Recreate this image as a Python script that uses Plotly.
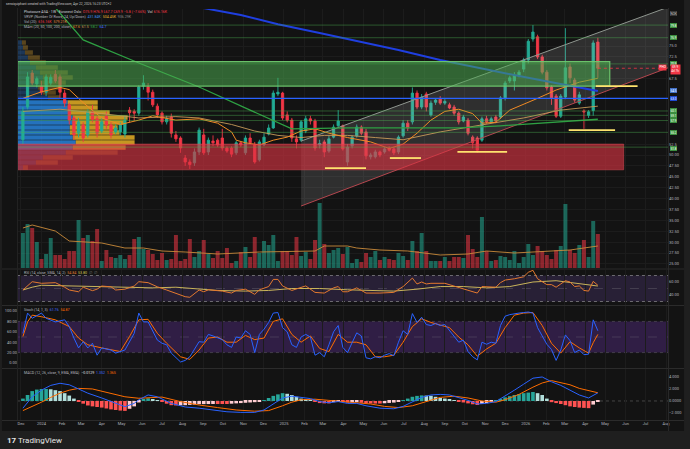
import numpy as np
import pandas as pd
import plotly.graph_objects as go

W, H = 690, 449
PLOT_L, PLOT_R = 18, 670
MAIN_T, MAIN_B = 9, 268
RSI_T, RSI_B = 270, 305
STO_T, STO_B = 306, 368
MACD_T, MACD_B = 369, 420


def fx(px):
    return px / W


def fy(py):
    return 1 - py / H


# ---------------- data ----------------
X_RANGE = ["2023-11-26 12:00", "2026-08-04"]
N_WEEKS = 125
DATES = pd.date_range("2023-12-04", periods=N_WEEKS, freq="7D")

OPEN = [53.5, 61.0, 68.8, 66.3, 65.8, 64.4, 66.5, 68.5, 67.9, 64.2,
        61.5, 58.5, 55.0, 56.9, 54.6, 59.9, 58.3, 55.5, 59.0, 56.9,
        55.3, 55.3, 54.8, 60.3, 60.0, 59.6, 65.8, 65.6, 64.4, 61.2,
        59.6, 57.6, 58.7, 54.6, 53.9, 49.3, 48.4, 48.2, 50.7, 54.6,
        50.7, 53.2, 53.4, 53.9, 51.6, 51.6, 50.5, 52.8, 50.5, 53.9,
        52.3, 48.9, 52.3, 54.8, 56.2, 64.0, 64.2, 59.2, 58.0, 53.7,
        53.4, 55.5, 58.3, 57.8, 52.3, 53.0, 50.9, 54.1, 56.7, 56.7,
        48.4, 52.1, 54.4, 56.4, 55.3, 49.6, 49.6, 50.7, 50.7, 51.6,
        51.4, 50.7, 54.4, 57.3, 57.6, 64.2, 61.0, 64.0, 59.2, 62.1,
        62.8, 61.9, 61.5, 61.0, 59.6, 57.8, 58.0, 54.1, 53.9, 53.4,
        58.3, 57.6, 58.7, 58.7, 63.1, 67.0, 67.0, 68.3, 69.7, 71.8,
        76.6, 77.1, 72.5, 69.0, 65.6, 63.5, 58.9, 63.3, 70.2, 67.2,
        61.9, 60.1, 59.1, 60.2, 75.9]
HIGH = [61.0, 69.0, 69.5, 68.0, 67.0, 68.5, 68.5, 69.5, 68.5, 65.0,
        62.0, 59.0, 58.5, 57.5, 60.5, 61.5, 59.0, 58.5, 60.0, 57.5,
        57.0, 57.5, 59.0, 61.0, 60.5, 66.0, 68.3, 66.5, 65.0, 61.8,
        60.0, 59.0, 59.5, 55.5, 54.3, 50.0, 49.0, 51.5, 56.3, 56.0,
        54.0, 54.5, 53.8, 56.0, 52.0, 52.0, 53.3, 53.0, 54.5, 55.0,
        53.0, 53.5, 55.0, 57.0, 64.8, 67.7, 64.5, 60.0, 58.5, 54.5,
        58.0, 59.0, 59.0, 58.3, 53.5, 53.5, 54.5, 57.0, 60.3, 57.0,
        52.5, 54.5, 57.0, 56.8, 56.0, 50.5, 51.2, 51.0, 51.8, 52.0,
        51.8, 54.5, 58.0, 58.0, 65.5, 64.8, 64.0, 64.5, 62.5, 63.0,
        63.5, 62.8, 62.0, 61.5, 60.0, 59.2, 58.5, 54.5, 54.3, 58.8,
        59.0, 58.8, 59.2, 63.5, 67.0, 68.2, 69.0, 69.5, 72.3, 76.6,
        79.8, 77.6, 73.0, 69.5, 66.0, 64.0, 64.0, 79.1, 71.0, 67.7,
        64.5, 60.5, 60.3, 76.3, 76.9]
LOW = [52.5, 60.5, 66.0, 65.5, 63.8, 63.5, 66.0, 66.5, 63.0, 61.0,
       57.0, 53.5, 54.0, 53.0, 54.0, 57.5, 54.0, 55.0, 56.0, 53.8,
       54.8, 54.5, 54.0, 57.5, 57.8, 59.0, 65.0, 62.5, 61.0, 58.5,
       57.0, 57.0, 54.0, 53.0, 50.5, 47.5, 46.8, 47.5, 50.0, 50.0,
       50.0, 52.0, 51.8, 51.0, 50.5, 49.5, 50.0, 51.8, 50.0, 52.5,
       48.0, 48.5, 52.0, 54.5, 56.0, 63.5, 58.0, 57.5, 53.0, 51.5,
       53.0, 55.0, 57.0, 51.0, 51.5, 49.5, 50.5, 53.8, 56.3, 51.0,
       47.5, 51.5, 54.0, 54.5, 49.0, 49.0, 49.2, 49.5, 50.3, 50.8,
       50.0, 50.2, 54.0, 55.5, 57.0, 60.5, 60.5, 60.0, 58.8, 61.5,
       61.5, 61.5, 60.5, 59.0, 57.0, 57.5, 54.5, 51.5, 50.5, 53.0,
       57.2, 57.3, 57.3, 58.3, 62.5, 66.5, 64.8, 67.8, 69.0, 71.0,
       76.0, 72.0, 68.5, 64.8, 61.5, 58.5, 58.5, 62.8, 66.5, 62.0,
       61.5, 56.0, 58.5, 59.0, 67.7]
CLOSE = [60.0, 67.9, 66.5, 67.5, 64.4, 67.9, 67.8, 67.0, 64.4, 61.9,
         58.0, 54.6, 57.6, 53.9, 59.9, 58.2, 55.0, 57.6, 56.9, 54.6,
         56.2, 56.9, 58.0, 59.7, 59.6, 65.6, 66.5, 64.4, 61.5, 59.2,
         57.6, 58.3, 55.0, 53.7, 51.6, 48.4, 47.8, 50.7, 55.7, 50.5,
         53.4, 52.8, 52.3, 51.6, 50.9, 50.2, 52.8, 52.3, 53.9, 52.8,
         48.4, 53.0, 54.1, 56.2, 64.2, 64.4, 58.5, 58.0, 53.9, 53.0,
         57.6, 58.3, 57.8, 51.6, 52.6, 50.7, 53.7, 56.4, 57.8, 51.4,
         51.8, 54.1, 56.4, 55.0, 49.8, 50.0, 50.7, 50.0, 51.4, 51.1,
         50.5, 54.1, 57.3, 56.2, 64.2, 61.0, 63.3, 61.0, 61.9, 62.6,
         61.9, 62.3, 60.8, 59.6, 57.6, 58.7, 55.0, 52.8, 51.1, 58.3,
         57.6, 58.3, 57.8, 63.1, 66.5, 67.7, 68.3, 69.0, 71.8, 76.1,
         78.2, 72.5, 69.0, 65.4, 63.1, 58.9, 63.5, 70.0, 67.7, 62.6,
         63.8, 59.9, 59.9, 75.7, 69.9]
VOLUME_K = [875, 1100, 1000, 650, 225, 350, 750, 325, 325, 225,
            425, 425, 1200, 750, 825, 675, 975, 175, 450, 275,
            250, 325, 225, 325, 725, 775, 475, 450, 350, 200,
            375, 200, 225, 825, 175, 225, 725, 275, 425, 700,
            350, 250, 425, 250, 500, 125, 175, 400, 525, 275,
            775, 375, 675, 575, 825, 175, 425, 425, 325, 775,
            300, 400, 225, 700, 1625, 600, 375, 450, 500, 350,
            525, 125, 225, 150, 375, 275, 425, 200, 275, 225,
            200, 375, 300, 200, 675, 425, 875, 425, 175, 175,
            175, 275, 175, 275, 275, 250, 825, 475, 275, 1275,
            425, 175, 200, 300, 275, 200, 425, 125, 275, 600,
            325, 550, 425, 325, 225, 450, 550, 1600, 450, 375,
            575, 700, 275, 1175, 850]
VOL_MA_IDX = [0, 2, 7, 10, 17, 19, 22, 26, 30, 35, 42, 51, 58, 63, 65, 70, 72, 77,
              83, 90, 96, 100, 106, 113, 118, 121, 124]
VOL_MA_VAL = [1000, 1075, 925, 675, 625, 575, 500, 500, 425, 400, 350, 400, 425, 425,
              550, 550, 500, 450, 425, 325, 350, 425, 375, 425, 450, 500, 550]

MA20_IDX = [0, 4, 8, 10, 13, 17, 21, 25, 28, 33, 38, 42, 45, 46, 48, 51, 54, 57, 60, 63,
            66, 70, 75, 79, 82, 85, 88, 91, 94, 97, 99, 102, 105, 109, 111, 115, 120, 124]
MA20_VAL = [63, 64.5, 65.5, 65, 62, 58.5, 57, 58, 59, 58, 58.3, 57.3, 55.3, 53.4, 52.8,
            52.3, 53.4, 54.1, 55.5, 56, 55, 54, 53, 51.5, 52.5, 55, 58, 60, 60.5, 59.5,
            57.3, 57.5, 60.3, 62, 63, 64.9, 66.7, 67.6]
MA50_IDX = [0, 8, 17, 25, 33, 38, 45, 50, 55, 60, 65, 70, 76, 82, 90, 97, 103, 108, 116, 124]
MA50_VAL = [60, 60.5, 59.5, 58.5, 58.8, 58.5, 57, 55.5, 54.5, 54, 54.5, 54.5, 54, 53.5,
            55.3, 56.5, 57.5, 58.5, 60.3, 61.2]
MA100_IDX = [6, 8, 13, 25, 38, 49, 58, 70, 85, 94, 103, 111, 124]
MA100_VAL = [85, 82.6, 76.4, 71.1, 65.6, 60.3, 56.0, 56.2, 56.2, 56.2, 56.7, 57.3, 58.2]
MA200_IDX = [36, 38, 47, 55, 64, 73, 81, 90, 98, 107, 116, 124]
MA200_VAL = [86, 83.9, 82.1, 80.0, 78.0, 75.9, 74.1, 71.8, 70.0, 68.1, 66.3, 64.7]

# visible-range volume profile (rows, up / down volume in K)
PROFILE_PRICE = [75.80, 74.65, 73.51, 72.36, 71.22, 70.07, 68.92, 67.78, 66.63, 65.48,
                 64.34, 63.19, 62.04, 60.89, 59.75, 58.60, 57.45, 56.31, 55.16, 54.01,
                 52.87, 51.72, 50.57, 49.43, 48.28, 47.13]
PROFILE_UP = [400, 500, 700, 1000, 1200, 1800, 2200, 2500, 2200, 2000, 2500, 3000, 5000,
              5000, 5200, 5500, 5500, 5200, 5200, 5500, 5800, 5500, 4800, 2500, 1800, 500]
PROFILE_DOWN = [400, 500, 800, 1200, 1600, 2200, 2800, 3000, 2600, 2200, 1300, 1200, 3000,
                3000, 4000, 5500, 5300, 4800, 5000, 6200, 5900, 5300, 5200, 3000, 2200, 500]
VALUE_AREA = (51.0, 62.8)

RSI_IDX = [0, 2, 4, 7, 9, 10, 12, 13, 15, 16, 17, 19, 20, 22, 24, 25, 27, 29, 31, 33,
           35, 36, 38, 39, 40, 43, 45, 46, 48, 50, 51, 53, 54, 55, 56, 58, 60, 61, 63, 65,
           67, 68, 69, 70, 72, 74, 77, 80, 82, 84, 85, 86, 87, 88, 91, 93, 96, 98, 99, 102,
           103, 104, 106, 108, 109, 110, 111, 112, 113, 114, 115, 116, 117, 118, 119, 120,
           121, 122, 123, 124]
RSI_VAL = [47.7, 60.5, 58, 59, 52, 47.7, 45, 52, 46.7, 49, 53.8, 52.6, 47.7, 49, 53.8,
           60.5, 59, 52.6, 47.7, 42.6, 37.4, 36.5, 47.7, 45, 48, 46, 43, 47, 49, 41,
           48, 53, 64, 64, 54, 47, 52, 54, 44, 43, 51, 53, 45, 45, 51, 43, 43, 44, 53, 66,
           57, 60, 57, 58, 58, 54, 48, 43, 53, 52, 59, 63, 65, 68, 75, 78, 65, 60, 56, 56,
           52, 57, 62, 60, 53, 54, 47, 46, 61, 55]
RSI_MA_IDX = [0, 2, 4, 10, 20, 28, 33, 38, 42, 48, 53, 58, 64, 70, 76, 80, 85, 90, 95,
              100, 105, 110, 115, 120, 124]
RSI_MA_VAL = [47.7, 52, 55, 54, 52, 51, 52, 49, 47, 46, 47, 50, 50, 48, 47, 46, 49, 53,
              53, 51, 53, 60, 62, 57, 53.8]

STOCH_K_IDX = [0, 1, 2, 4, 5, 6, 7, 9, 10, 11, 12, 13, 14, 15, 16, 17, 19, 20, 22, 24,
               25, 26, 27, 29, 30, 31, 32, 34, 35, 36, 38] + list(range(39, 125))
STOCH_K_VAL = [57, 96, 86, 96, 86, 83, 79, 83, 70, 48, 29, 41, 29, 38, 15, 29, 25, 19, 25,
               57, 96, 79, 79, 44, 38, 35, 19, 2, 5, 12, 41,
               40, 55, 52, 48, 45, 35, 30, 50, 48, 62,
               55, 20, 55, 65, 78, 96, 97, 68, 60, 35,
               30, 50, 55, 50, 15, 20, 12, 35, 60, 72,
               30, 20, 40, 58, 52, 10, 8, 12, 10, 15,
               18, 14, 40, 62, 55, 95, 78, 88, 74, 72,
               76, 72, 74, 62, 52, 40, 44, 22, 12, 6,
               40, 36, 40, 38, 72, 90, 93, 95, 96, 97,
               98, 96, 68, 52, 36, 26, 5, 25, 54, 43,
               20, 25, 16, 17, 83, 62]
STOCH_D_IDX = [0, 1, 2, 4, 7, 10, 12, 14, 17, 21, 23, 25, 27, 29, 31, 34, 36, 38, 40, 42,
               44, 46, 48, 50, 52, 54, 56, 58, 60, 62, 64, 66, 68, 70, 72, 74, 76, 78, 80, 82,
               84, 86, 88, 90, 92, 94, 96, 98, 100, 102, 104, 106, 108, 110, 112, 114, 116,
               118, 120, 122, 123, 124]
STOCH_D_VAL = [51, 79, 92, 89, 83, 70, 48, 35, 29, 22, 51, 83, 84, 57, 38, 12, 7, 25, 48, 50,
               40, 40, 53, 45, 48, 80, 85, 55, 40, 52, 28, 22, 55, 40, 40, 35, 12, 12, 15, 40,
               70, 85, 78, 73, 68, 50, 35, 13, 27, 38, 68, 92, 96, 97, 72, 38, 19,
               41, 29, 19, 39, 55]

MACD_IDX = [0, 2, 4, 6, 8, 10, 12, 14, 17, 19, 21, 22, 24, 25, 27, 29, 32, 35, 38, 41,
            44, 47, 50, 52, 54, 56, 58, 60, 62, 64, 66, 68, 70, 72, 74, 77, 80, 82, 84, 86,
            88, 90, 92, 94, 96, 98, 100, 102, 104, 106, 108, 110, 112, 114, 116, 118, 120,
            122, 124]
MACD_VAL = [-1.2, 0.7, 1.8, 2.6, 2.95, 2.7, 2.0, 1.3, 0.5, -0.1, -0.7, -0.95, -0.4, 0.2,
            1.0, 0.7, -0.4, -1.0, -1.2, -1.5, -1.8, -1.9, -1.9, -1.5, -0.5, 0.5, 0.8, 0.6,
            0.4, -0.1, -0.3, -0.1, -0.4, -0.4, -0.8, -1.2, -1.3, -0.9, -0.1, 0.6, 1.0, 1.1,
            1.0, 0.6, 0.1, -0.5, -0.4, -0.1, 0.8, 1.8, 2.8, 3.8, 4.0, 3.2, 2.6, 1.8, 1.0,
            0.5, 1.35]
SIGNAL_IDX = [0, 2, 4, 6, 8, 10, 12, 15, 19, 22, 25, 28, 30, 34, 38, 42, 46, 50, 53, 56,
              58, 60, 63, 66, 69, 72, 75, 78, 81, 84, 87, 90, 93, 96, 99, 102, 104, 107,
              110, 112, 114, 116, 118, 120, 122, 124]
SIGNAL_VAL = [-1.6, -0.95, -0.2, 0.6, 1.3, 1.8, 2.1, 2.0, 1.3, 0.7, 0.45, 0.6, 0.65, -0.1,
              -0.67, -1.1, -1.5, -1.7, -1.6, -0.8, -0.2, 0.2, 0.3, 0.1, -0.1, -0.2, -0.5,
              -0.9, -1.1, -0.8, -0.1, 0.6, 0.8, 0.5, 0.0, -0.2, 0.2, 1.1, 2.3, 3.0, 3.4, 3.1,
              2.7, 2.1, 1.7, 1.37]
MACD_HIST = [0.4, 1.0, 1.65, 1.9, 2.0, 2.0, 1.95, 1.8, 1.65, 1.3,
             0.9, 0.4, -0.1, -0.45, -0.75, -0.9, -1.0, -1.1, -1.25, -1.4,
             -1.5, -1.6, -1.65, -1.3, -0.9, -0.25, 0.2, 0.45, 0.3, 0.08,
             -0.15, -0.45, -0.7, -0.75, -0.72, -0.7, -0.65, -0.6, -0.53, -0.52,
             -0.51, -0.5, -0.5, -0.5, -0.5, -0.45, -0.4, -0.35, -0.3, -0.25,
             -0.2, -0.05, 0.15, 0.5, 0.85, 1.1, 1.3, 1.2, 1.0, 0.7,
             0.4, 0.25, 0.13, -0.1, -0.35, -0.4, -0.4, -0.2, -0.05, -0.15,
             -0.27, -0.25, -0.2, -0.3, -0.4, -0.42, -0.43, -0.43, -0.38, -0.32,
             -0.27, -0.1, 0.1, 0.4, 0.7, 0.85, 0.93, 0.9, 0.87, 0.7,
             0.5, 0.4, 0.27, 0.1, -0.1, -0.25, -0.4, -0.55, -0.67, -0.5,
             -0.33, -0.1, 0.1, 0.35, 0.6, 0.8, 1.0, 1.15, 1.3, 1.4,
             1.5, 1.3, 1.0, 0.4, -0.2, -0.35, -0.5, -0.7, -0.9, -1.0,
             -1.1, -1.15, -1.2, -0.6, -0.0129]

# drawings
GREEN_ZONE = ("2023-11-26", "2026-05-08", 65.8, 71.4)
RED_ZONE = ("2023-11-26", "2026-05-29", 46.6, 52.5)
CHANNEL_X = ["2025-01-27", "2026-08-04"]
CHANNEL_TOP = [53.2, 83.9]
CHANNEL_BOT = [38.3, 70.0]
SUPPORT_LINES = [("2025-03-04", "2025-05-05", 47.0), ("2025-06-10", "2025-07-27", 49.3),
                 ("2025-09-20", "2025-12-04", 50.7), ("2026-03-07", "2026-05-16", 55.7),
                 ("2026-04-17", "2026-06-19", 65.8)]
GREEN_LEVELS = [79.8, 76.9, 70.9, 60.1, 59.1, 57.9, 55.2, 51.8]
BLUE_LEVEL = 63.0

PRICE_RANGE = [24.08, 83.49]
# scale ticks that are not hidden behind the coloured price boxes
PRICE_TICKS = [25, 27.5, 30, 32.5, 35, 37.5, 40, 42.5, 45, 47.5, 50, 52.5, 67.5, 72.5, 75]
MONTHS = pd.date_range("2023-12-01", "2026-08-01", freq="MS")
MONTH_TEXT = [str(d.year) if d.month == 1 else d.strftime("%b") for d in MONTHS]

# ---------------- styling ----------------
UP, DN = "#22ab94", "#f23645"
BG = "#131313"
TXT = "#b2b5be"
FONT = "Roboto"
GRID = "#1c1c1c"

fig = go.Figure()

# volume profile on its own (hidden) x scale
in_va = [VALUE_AREA[0] <= p <= VALUE_AREA[1] for p in PROFILE_PRICE]
fig.add_trace(go.Bar(x=PROFILE_UP, y=PROFILE_PRICE, orientation="h", width=1.02,
                     marker=dict(color=["rgba(40,132,220,0.85)" if v else "rgba(40,100,170,0.45)" for v in in_va],
                                 line=dict(width=0)),
                     xaxis="x", yaxis="y", hoverinfo="skip"))
fig.add_trace(go.Bar(x=PROFILE_DOWN, y=PROFILE_PRICE, base=PROFILE_UP, orientation="h", width=1.02,
                     marker=dict(color=["rgba(222,170,35,0.88)" if v else "rgba(160,120,40,0.5)" for v in in_va],
                                 line=dict(width=0)),
                     xaxis="x", yaxis="y", hoverinfo="skip"))

# channel
fig.add_trace(go.Scatter(x=CHANNEL_X + CHANNEL_X[::-1], y=CHANNEL_TOP + CHANNEL_BOT[::-1],
                         fill="toself", fillcolor="rgba(190,190,190,0.17)", line=dict(width=0),
                         mode="lines", xaxis="x2", yaxis="y", hoverinfo="skip"))
fig.add_trace(go.Scatter(x=CHANNEL_X, y=CHANNEL_TOP, mode="lines", line=dict(color="#8f968f", width=1),
                         xaxis="x2", yaxis="y", hoverinfo="skip"))
fig.add_trace(go.Scatter(x=CHANNEL_X, y=CHANNEL_BOT, mode="lines", line=dict(color="#b5474f", width=1),
                         xaxis="x2", yaxis="y", hoverinfo="skip"))

# candles
fig.add_trace(go.Candlestick(x=DATES, open=OPEN, high=HIGH, low=LOW, close=CLOSE,
                             increasing=dict(line=dict(color=UP, width=0.9), fillcolor=UP),
                             decreasing=dict(line=dict(color=DN, width=0.9), fillcolor=DN),
                             whiskerwidth=0, xaxis="x2", yaxis="y", hoverinfo="skip"))


def line_tr(idx, vals, color, width, xa="x2", ya="y", opacity=1.0):
    return go.Scatter(x=DATES[idx], y=vals, mode="lines", line=dict(color=color, width=width),
                      opacity=opacity, xaxis=xa, yaxis=ya, hoverinfo="skip")


fig.add_trace(line_tr(MA50_IDX, MA50_VAL, "#c79a5a", 1.0, opacity=0.9))
fig.add_trace(line_tr(MA20_IDX, MA20_VAL, "#f08a24", 1.0))
fig.add_trace(line_tr(MA100_IDX, MA100_VAL, "#2ea043", 1.3))
fig.add_trace(line_tr(MA200_IDX, MA200_VAL, "#1f3fe0", 2.0))

# volume
vol_cols = ["rgba(34,171,148,0.55)" if c >= o else "rgba(242,54,69,0.55)" for o, c in zip(OPEN, CLOSE)]
fig.add_trace(go.Bar(x=DATES, y=VOLUME_K, marker=dict(color=vol_cols, line=dict(width=0)),
                     width=6 * 86400000, xaxis="x2", yaxis="y2", hoverinfo="skip"))
fig.add_trace(line_tr(VOL_MA_IDX, VOL_MA_VAL, "#c98a3a", 0.9, ya="y2"))

# RSI
fig.add_trace(line_tr(RSI_MA_IDX, RSI_MA_VAL, "#c9b45a", 1.0, xa="x3", ya="y3"))
fig.add_trace(line_tr(RSI_IDX, RSI_VAL, "#e3792f", 1.0, xa="x3", ya="y3"))

# Stochastic
fig.add_trace(line_tr(STOCH_D_IDX, STOCH_D_VAL, "#ff6d00", 1.0, xa="x4", ya="y4"))
fig.add_trace(line_tr(STOCH_K_IDX, STOCH_K_VAL, "#2962ff", 1.0, xa="x4", ya="y4"))

# MACD
hist = np.array(MACD_HIST)
prev = np.concatenate([[hist[0]], hist[:-1]])
hist_cols = np.where(hist >= 0, np.where(hist >= prev, "#26a69a", "#b2dfdb"),
                     np.where(hist <= prev, "#ff5252", "#ffcdd2"))
fig.add_trace(go.Bar(x=DATES, y=MACD_HIST, marker=dict(color=list(hist_cols), line=dict(width=0)),
                     width=5.5 * 86400000, xaxis="x5", yaxis="y5", hoverinfo="skip"))
fig.add_trace(line_tr(SIGNAL_IDX, SIGNAL_VAL, "#ff6d00", 1.0, xa="x5", ya="y5"))
fig.add_trace(line_tr(MACD_IDX, MACD_VAL, "#2962ff", 1.0, xa="x5", ya="y5"))

# ---------------- shapes ----------------
shapes = []
shapes.append(dict(type="rect", xref="paper", yref="paper", x0=fx(2), x1=fx(686), y0=fy(431), y1=fy(0),
                   fillcolor=BG, line=dict(width=0), layer="below"))
shapes.append(dict(type="rect", xref="x2", yref="y", x0=GREEN_ZONE[0], x1=GREEN_ZONE[1],
                   y0=GREEN_ZONE[2], y1=GREEN_ZONE[3], fillcolor="rgba(76,175,80,0.52)",
                   line=dict(color="rgba(110,200,110,0.95)", width=1.2), layer="above"))
shapes.append(dict(type="rect", xref="x2", yref="y", x0=RED_ZONE[0], x1=RED_ZONE[1],
                   y0=RED_ZONE[2], y1=RED_ZONE[3], fillcolor="rgba(220,52,66,0.62)",
                   line=dict(color="rgba(230,80,90,0.6)", width=0.8), layer="above"))
for lv in GREEN_LEVELS:
    shapes.append(dict(type="line", xref="x2", yref="y", x0=X_RANGE[0], x1=X_RANGE[1], y0=lv, y1=lv,
                       line=dict(color="rgba(76,175,80,0.55)", width=0.8), layer="above"))
shapes.append(dict(type="line", xref="x2", yref="y", x0=X_RANGE[0], x1=X_RANGE[1], y0=BLUE_LEVEL,
                   y1=BLUE_LEVEL, line=dict(color="#2962ff", width=1.2), layer="above"))
for a, b, lv in SUPPORT_LINES:
    shapes.append(dict(type="line", xref="x2", yref="y", x0=a, x1=b, y0=lv, y1=lv,
                       line=dict(color="#ffe36e", width=1.8), layer="above"))
shapes.append(dict(type="line", xref="x2", yref="y", x0=DATES[-1], x1=X_RANGE[1], y0=CLOSE[-1],
                   y1=CLOSE[-1], line=dict(color=DN, width=0.8, dash="dot"), layer="above"))
shapes.append(dict(type="rect", xref="x3", yref="y3", x0=X_RANGE[0], x1=X_RANGE[1], y0=30, y1=70,
                   fillcolor="rgba(126,87,194,0.20)", line=dict(width=0), layer="below"))
for lv, dash, col in [(70, "dot", "rgba(200,200,200,0.6)"), (30, "dot", "rgba(200,200,200,0.6)"),
                      (50, "dash", "rgba(160,160,160,0.3)")]:
    shapes.append(dict(type="line", xref="x3", yref="y3", x0=X_RANGE[0], x1=X_RANGE[1], y0=lv, y1=lv,
                       line=dict(color=col, width=0.8, dash=dash), layer="below"))
shapes.append(dict(type="rect", xref="x4", yref="y4", x0=X_RANGE[0], x1=X_RANGE[1], y0=20, y1=80,
                   fillcolor="rgba(126,60,200,0.28)", line=dict(width=0), layer="below"))
for lv, dash, col in [(80, "dot", "rgba(160,160,160,0.35)"), (20, "dot", "rgba(160,160,160,0.35)"),
                      (50, "dash", "rgba(160,160,160,0.25)")]:
    shapes.append(dict(type="line", xref="x4", yref="y4", x0=X_RANGE[0], x1=X_RANGE[1], y0=lv, y1=lv,
                       line=dict(color=col, width=0.8, dash=dash), layer="below"))
shapes.append(dict(type="line", xref="x5", yref="y5", x0=X_RANGE[0], x1=X_RANGE[1], y0=0, y1=0,
                   line=dict(color="rgba(160,160,160,0.45)", width=0.8, dash="dot"), layer="below"))
for py in [269, 305.5, 368.5, 420.5]:
    shapes.append(dict(type="line", xref="paper", yref="paper", x0=fx(2), x1=fx(686), y0=fy(py), y1=fy(py),
                       line=dict(color="#2b2b2b", width=1), layer="above"))
shapes.append(dict(type="line", xref="paper", yref="paper", x0=fx(PLOT_R + 0.5), x1=fx(PLOT_R + 0.5),
                   y0=fy(431), y1=fy(8), line=dict(color="#2b2b2b", width=1), layer="above"))
shapes.append(dict(type="line", xref="paper", yref="paper", x0=fx(PLOT_L - 0.5), x1=fx(PLOT_L - 0.5),
                   y0=fy(420), y1=fy(8), line=dict(color="#242424", width=1), layer="above"))

# ---------------- annotations ----------------
def sp(t, c):
    return f"<span style='color:{c}'>{t}</span>"


ann = []


def text(px, py, s, size=3.6, color=TXT, anchor="left", **kw):
    ann.append(dict(x=fx(px), y=fy(py), xref="paper", yref="paper", text=s, showarrow=False,
                    xanchor=anchor, yanchor="middle", font=dict(family=FONT, size=size, color=color), **kw))


text(4, 4, "sensiquiphant created with TradingView.com, Apr 22, 2026 16:23 UTC+2", size=3.3, color="#c8c8c8")
text(22, 11.7, "Photocure ASA · 1W · Euronext Oslo  " + sp("O75.9 H76.9 L67.7 C69.9 −5.8 (−7.66%)", DN)
     + "  Vol " + sp("616.16K", DN), color="#d1d4dc")
text(22, 16.6, "VRVP (Number Of Rows, 24, Up/Down)  " + sp("431.84K", "#3d8ee0") + "  "
     + sp("504.45K", "#e0b030") + "  " + sp("936.29K", "#8a8a8a"))
text(22, 22, "Vol (20)  " + sp("616.16K", DN) + "  " + sp("579.21K", "#e08a3a"))
text(22, 27.3, "MAm (20, 50, 100, 200, close)  " + sp("67.6", "#f08a24") + "  " + sp("61.5", "#c79a5a")
     + "  " + sp("58.2", "#2ea043") + "  " + sp("64.7", "#3f6bff"))
text(22, 272.5, "RSI (14, close, SMA, 14, 2)  " + sp("54.84", "#e3792f") + "  " + sp("53.80", "#d8c050")
     + "  " + sp("∅  ∅", "#777"))
text(22, 309.5, "Stoch (14, 1, 3)  " + sp("61.76", "#3f6bff") + "  " + sp("54.87", "#ff6d00"))
text(22, 373, "MACD (12, 26, close, 9, EMA, EMA)  " + sp("−0.0129", "#e0e0e0") + "  "
     + sp("1.352", "#3f6bff") + "  " + sp("1.365", "#ff6d00"))
text(5, 440.5, "<b>17</b> TradingView", size=8, color="#e6e6e6")

# price-scale labels
PRICE_BOXES = [(82.4, "NOK", "#1e1e1e", "#d0d0d0"),
               (79.8, "79.8", "#43a047", "#ffffff"), (76.9, "76.9", "#43a047", "#ffffff"),
               (70.9, "70.9", "#43a047", "#ffffff"), (64.7, "64.5", "#4a7fe0", "#ffffff"),
               (63.0, "63.0", "#2050e8", "#ffffff"), (60.2, "60.1", "#43a047", "#ffffff"),
               (59.05, "59.1", "#43a047", "#ffffff"), (57.85, "57.9", "#43a047", "#ffffff"),
               (55.2, "55.2", "#43a047", "#ffffff"), (51.6, "51.8", "#43a047", "#ffffff")]
for price, t, bg, fg in PRICE_BOXES:
    ann.append(dict(x=fx(PLOT_R + 2), y=price, xref="paper", yref="y", text=t, showarrow=False,
                    xanchor="left", yanchor="middle", bgcolor=bg, borderpad=0,
                    bordercolor="#555" if t == "NOK" else bg, borderwidth=0.5,
                    font=dict(family=FONT, size=3.1, color=fg)))
ann.append(dict(x=fx(PLOT_R + 2), y=CLOSE[-1] - 0.2, xref="paper", yref="y", text="69.9<br>4d 7h",
                showarrow=False, xanchor="left", yanchor="middle", bgcolor=DN, borderpad=0.3,
                font=dict(family=FONT, size=3.1, color="#ffffff")))
ann.append(dict(x=fx(PLOT_R - 1), y=CLOSE[-1] + 0.1, xref="paper", yref="y", text="PHO", showarrow=False,
                xanchor="right", yanchor="middle", bgcolor=DN, borderpad=0.4,
                font=dict(family=FONT, size=3.2, color="#ffffff")))

# ---------------- axes ----------------
xdom = [fx(PLOT_L), fx(PLOT_R)]
tickfont = dict(family=FONT, size=4, color=TXT)


def date_axis(anchor, show_labels=False, **kw):
    d = dict(domain=xdom, type="date", range=X_RANGE, anchor=anchor, showgrid=True, gridcolor=GRID,
             gridwidth=1, tickvals=MONTHS, ticktext=MONTH_TEXT, showticklabels=show_labels,
             ticks="", showline=False, zeroline=False, tickfont=tickfont, fixedrange=True)
    d.update(kw)
    return d


price_text = [f"{v:.2f}" if v <= 50 else f"{v:.1f}" for v in PRICE_TICKS]

fig.update_layout(
    width=W, height=H, margin=dict(l=0, r=0, t=0, b=0),
    paper_bgcolor="#1f1f1f", plot_bgcolor="rgba(0,0,0,0)",
    showlegend=False, hovermode=False, barmode="overlay",
    font=dict(family=FONT, color=TXT),
    xaxis=dict(domain=xdom, range=[0, 65200], visible=False, anchor="y", fixedrange=True),
    xaxis2=date_axis("y", overlaying="x"),
    xaxis3=date_axis("y3", matches="x2"),
    xaxis4=date_axis("y4", matches="x2"),
    xaxis5=date_axis("y5", show_labels=True, matches="x2"),
    yaxis=dict(domain=[fy(MAIN_B), fy(MAIN_T)], range=PRICE_RANGE, side="right", anchor="x",
               tickvals=PRICE_TICKS, ticktext=price_text, tickfont=tickfont, showgrid=True,
               gridcolor=GRID, zeroline=False, ticks="", fixedrange=True),
    yaxis2=dict(overlaying="y", range=[0, 6475], visible=False, anchor="x2", fixedrange=True),
    yaxis3=dict(domain=[fy(RSI_B), fy(RSI_T)], range=[24.6, 78.5], side="right", anchor="x3",
                tickvals=[40, 60], ticktext=["40.00", "60.00"], tickfont=tickfont, showgrid=False,
                zeroline=False, ticks="", fixedrange=True),
    yaxis4=dict(domain=[fy(STO_B), fy(STO_T)], range=[-9.6, 109.6], side="left", anchor="x4",
                tickvals=[0, 20, 40, 60, 80, 100], ticktext=["0.00", "20.00", "40.00", "60.00", "80.00", "100.00"],
                tickfont=tickfont, showgrid=False, zeroline=False, ticks="", fixedrange=True),
    yaxis5=dict(domain=[fy(MACD_B), fy(MACD_T)], range=[-3.17, 5.33], side="right", anchor="x5",
                tickvals=[-2, 0, 2, 4], ticktext=["−2.000", "0.0000", "2.000", "4.000"], tickfont=tickfont,
                showgrid=False, zeroline=False, ticks="", fixedrange=True),
    shapes=shapes, annotations=ann,
)
fig.update_xaxes(rangeslider_visible=False)

fig.write_html("out.html")
